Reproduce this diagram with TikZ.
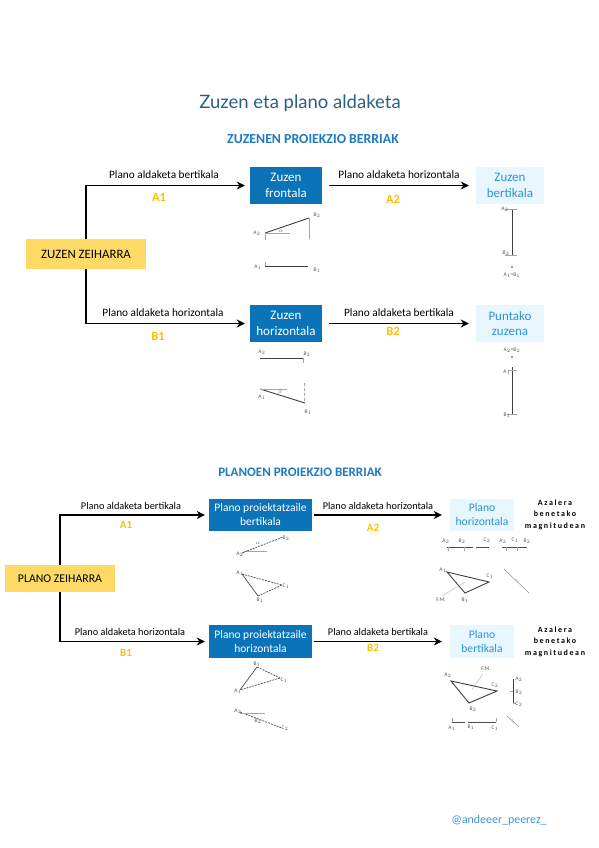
\documentclass[tikz,border=0pt]{standalone}
\usepackage{fontspec}
\setmainfont{Carlito}
\newfontfamily\titlefont{Lato}
\usetikzlibrary{arrows.meta}
\definecolor{boxblue}{HTML}{0B74B8}
\definecolor{lightbox}{HTML}{E8F6FD}
\definecolor{lighttext}{HTML}{2E93D2}
\definecolor{yellowbox}{HTML}{FFD966}
\definecolor{gold}{HTML}{FFC000}
\definecolor{titleblue}{HTML}{2B5F80}
\definecolor{headblue}{HTML}{1E7BBF}
\definecolor{handle}{HTML}{3F94D6}
\newcounter{lblc}
\newcommand{\lbl}[3]{\stepcounter{lblc}\node[sk] (l\thelblc) at (#1,#2) {#3};}
\tikzset{
  x=1pt,y=-1pt,
  yellow box/.style={fill=yellowbox,draw=none,text=black,align=center,font=\fontsize{12.8}{14}\selectfont,inner sep=0pt},
  dark box/.style={fill=boxblue,draw=none,text=white,align=center,font=\fontsize{13}{15.5}\selectfont,inner sep=0pt},
  pale box/.style={fill=lightbox,draw=none,text=lighttext,align=center,font=\fontsize{13}{15.5}\selectfont,inner sep=0pt},
  arr/.style={-{Stealth[length=8pt,width=8pt]},line width=1.7pt,black},
  opname/.style={font=\fontsize{11.3}{13}\selectfont,text=black,inner sep=0pt},
  opcode/.style={font=\fontsize{12.5}{14}\bfseries\selectfont,text=gold,inner sep=0pt},
  aza/.style={font=\fontsize{8}{11.4}\bfseries\selectfont,text=black,align=center,inner sep=0pt},
  sk/.style={font=\fontsize{5.5}{6.5}\selectfont,text=black!65,inner sep=0pt},
  ln/.style={line width=0.7pt,black!70},
  thk/.style={line width=0.9pt,black!75},
  dsh/.style={line width=0.7pt,black!70,dash pattern=on 2pt off 1pt},
  fnt/.style={line width=0.3pt,black!35},
}
\begin{document}
\begin{tikzpicture}
\useasboundingbox (0,0) rectangle (599,848);
\fill[white] (0,0) rectangle (599,848);
\node[font=\titlefont\fontsize{18.5}{22}\selectfont,text=titleblue,inner sep=0pt] (title) at (300,103) {Zuzen eta plano aldaketa};
\node[font=\fontsize{13.8}{15}\bfseries\selectfont,text=headblue,inner sep=0pt] (head1) at (313,139) {ZUZENEN PROIEKZIO BERRIAK};
\node[font=\fontsize{13}{15}\bfseries\selectfont,text=headblue,inner sep=0pt] (head2) at (300,472) {PLANOEN PROIEKZIO BERRIAK};
% upper
\node[yellow box,minimum width=120pt,minimum height=30pt] (zz) at (86,254) {ZUZEN ZEIHARRA};
\node[dark box,minimum width=72pt,minimum height=37pt] (zf) at (286,185.5) {Zuzen\\frontala};
\node[dark box,minimum width=72pt,minimum height=37pt] (zh) at (286,323.5) {Zuzen\\horizontala};
\node[pale box,minimum width=68pt,minimum height=37pt] (zb) at (510,185.5) {Zuzen\\bertikala};
\node[pale box,minimum width=68pt,minimum height=37pt] (pz) at (510,323.5) {Puntako\\zuzena};
\draw[arr,shorten >=5pt] (zz.north) |- (zf.west);
\draw[arr,shorten >=5pt] (zz.south) |- (zh.west);
\draw[arr,shorten >=7pt,shorten <=7pt] (zf.east) -- (zb.west);
\draw[arr,shorten >=7pt,shorten <=7pt] (zh.east) -- (pz.west);
\node[opname] (o1) at (164,174.5) {Plano aldaketa bertikala};
\node[opcode] (c1) at (159,197) {A1};
\node[opname] (o2) at (399,175) {Plano aldaketa horizontala};
\node[opcode] (c2) at (393,199) {A2};
\node[opname] (o3) at (163,313) {Plano aldaketa horizontala};
\node[opcode] (c3) at (158,336) {B1};
\node[opname] (o4) at (399,313) {Plano aldaketa bertikala};
\node[opcode] (c4) at (393,331) {B2};
% lower
\node[yellow box,minimum width=110pt,minimum height=27pt,font=\fontsize{11.8}{14}\selectfont] (pl) at (60,578.5) {PLANO ZEIHARRA};
\node[dark box,minimum width=103pt,minimum height=32pt,font=\fontsize{11.5}{14}\selectfont] (pb) at (260.5,515) {Plano proiektatzaile\\bertikala};
\node[dark box,minimum width=103pt,minimum height=33pt,font=\fontsize{11.5}{14}\selectfont] (ph) at (260.5,641.5) {Plano proiektatzaile\\horizontala};
\node[pale box,minimum width=64pt,minimum height=32pt,font=\fontsize{11.6}{14}\selectfont] (phh) at (482,515) {Plano\\horizontala};
\node[pale box,minimum width=64pt,minimum height=33pt,font=\fontsize{11.6}{14}\selectfont] (pbb) at (482,641.5) {Plano\\bertikala};
\draw[arr,shorten >=4pt] (pl.north) |- (pb.west);
\draw[arr,shorten >=4pt] (pl.south) |- (ph.west);
\draw[arr,shorten >=8pt,shorten <=2pt] (pb.east) -- (phh.west);
\draw[arr,shorten >=8pt,shorten <=2pt] (ph.east) -- (pbb.west);
\node[opname,font=\fontsize{10.3}{12}\selectfont] (o5) at (131,506) {Plano aldaketa bertikala};
\node[opcode,font=\fontsize{11}{12}\bfseries\selectfont] (c5) at (126,525) {A1};
\node[opname,font=\fontsize{10.3}{12}\selectfont] (o6) at (378,506) {Plano aldaketa horizontala};
\node[opcode,font=\fontsize{11}{12}\bfseries\selectfont] (c6) at (373,528) {A2};
\node[opname,font=\fontsize{10.3}{12}\selectfont] (o7) at (130,632) {Plano aldaketa horizontala};
\node[opcode,font=\fontsize{11}{12}\bfseries\selectfont] (c7) at (126,653) {B1};
\node[opname,font=\fontsize{10.3}{12}\selectfont] (o8) at (378,632) {Plano aldaketa bertikala};
\node[opcode,font=\fontsize{11}{12}\bfseries\selectfont] (c8) at (373,648) {B2};
\node[aza] (az1) at (555,514.5) {\addfontfeature{LetterSpace=20}Azalera\\\addfontfeature{LetterSpace=20}benetako\\\addfontfeature{LetterSpace=20}magnitudean};
\node[aza] (az2) at (555,641.5) {\addfontfeature{LetterSpace=20}Azalera\\\addfontfeature{LetterSpace=20}benetako\\\addfontfeature{LetterSpace=20}magnitudean};
\node[font=\fontsize{11.9}{13}\selectfont,text=handle,inner sep=0pt] (hd) at (499,820.5) {@andeeer\_peerez\_};
% sketch: frontal
\draw[thk] (265,233) -- (309,218);
\draw[fnt] (265,233) -- (290,233);
\draw[fnt] (309,218) -- (309,239);
\draw[fnt] (265,233) -- (265,240);
\lbl{257}{233}{A$_2$}\lbl{317}{215}{B$_2$}\lbl{281}{231}{$\alpha$}
\draw[thk] (265,266) -- (308,266);
\draw[fnt] (265,262) -- (265,266);
\lbl{258}{267}{A$_1$}\lbl{317}{270}{B$_1$}
% sketch: vertical
\draw[thk] (512,209) -- (512,255);
\draw[fnt] (505,209) -- (517,209);
\draw[fnt] (505,255) -- (517,255);
\fill[black!80] (512,267) circle (0.8pt);
\lbl{505}{209}{A$_2$}\lbl{506}{253}{B$_2$}\lbl{512}{275}{A$_1$=B$_1$}
% sketch: horizontal
\draw[thk] (260,358) -- (303,358);
\draw[fnt] (303,358) -- (303,363);
\lbl{262}{352}{A$_2$}\lbl{307}{354}{B$_2$}
\draw[thk] (260,389) -- (305,403);
\draw[fnt] (260,389) -- (287,389);
\draw[fnt,densely dashed] (304,383) -- (304,403);
\lbl{262}{397}{A$_1$}\lbl{308}{412}{B$_1$}\lbl{280}{392}{$\beta$}
% sketch: point
\fill[black!80] (512,357) circle (0.8pt);
\draw[thk] (512,367) -- (512,414);
\draw[fnt] (508,370) -- (517,370);
\draw[fnt] (507,414) -- (517,414);
\lbl{512}{350}{A$_2$=B$_2$}\lbl{507}{372}{A$_1$}\lbl{507}{415}{B$_1$}
% sketch: plano bertikala
\draw[dsh] (247,551) -- (283,537);
\draw[ln] (242,553) -- (247,551);
\draw[fnt] (247,551) -- (267,551);
\lbl{258}{543}{$\alpha$}\lbl{286}{538}{B$_2$}\lbl{240}{554}{A$_2$}
\draw[dsh] (242,574) -- (282,585);
\draw[ln] (242,574) -- (258,596);
\draw[dsh] (258,596) -- (282,585);
\lbl{240}{573}{A$_1$}\lbl{286}{586}{C$_1$}\lbl{260}{600}{B$_1$}
% sketch: plano horizontala
\draw[ln] (447,547) -- (473,547);
\draw[ln] (476,547) -- (489,547);
\draw[fnt] (448,547) -- (448,551) (464,547) -- (464,551);
\lbl{446}{541}{A$_2$}\lbl{462}{541}{B$_2$}\lbl{487}{540}{C$_2$}
\draw[ln] (502,547) -- (527,547);
\draw[fnt] (506,547) -- (506,551) (517,547) -- (517,551);
\lbl{503}{541}{A$_2$}\lbl{515}{540}{C$_1$}\lbl{527}{541}{B$_2$}
\draw[thk] (447,572) -- (465,593) -- (489,582) -- cycle;
\draw[fnt] (442,596) -- (465,582);
\lbl{443}{570}{A$_1$}\lbl{490}{576}{C$_1$}\lbl{465}{600}{B$_1$}\lbl{441}{600}{F.M.}
\draw[line width=0.5pt,black!45] (504,569) -- (529,593);
\draw[fnt] (516,579) -- (519,582);
% sketch: plano proiektatzaile horizontala
\draw[ln] (257,667) -- (240,690);
\draw[dsh] (257,667) -- (280,678);
\draw[dsh] (280,678) -- (240,690);
\lbl{257}{664}{B$_1$}\lbl{284}{680}{C$_1$}\lbl{238}{691}{A$_1$}
\draw[dsh] (240,712) -- (282,728);
\draw[fnt] (240,713) -- (265,713);
\lbl{238}{711}{A$_2$}\lbl{258}{721}{B$_2$}\lbl{285}{728}{C$_2$}
% sketch: plano bertikala
\draw[thk] (451,681) -- (469,703) -- (497,691) -- cycle;
\draw[fnt] (472,689) -- (483,674);
\lbl{448}{675}{A$_2$}\lbl{495}{685}{C$_2$}\lbl{473}{709}{B$_2$}\lbl{486}{669}{F.M.}
\draw[thk] (513,679) -- (513,703);
\draw[fnt] (510,691) -- (513,691) (513,703) -- (516,703);
\lbl{519}{679}{A$_2$}\lbl{519}{692}{B$_2$}\lbl{519}{704}{C$_2$}
\draw[ln] (452,722) -- (465,722);
\draw[ln] (468,722) -- (496,722);
\draw[fnt] (452,718) -- (452,722) (496,718) -- (496,722);
\lbl{452}{728}{A$_1$}\lbl{471}{727}{B$_1$}\lbl{495}{728}{C$_1$}
\draw[line width=0.5pt,black!45] (507,716) -- (519,727);
\draw[fnt] (512,719) -- (514,723);
\end{tikzpicture}
\end{document}
